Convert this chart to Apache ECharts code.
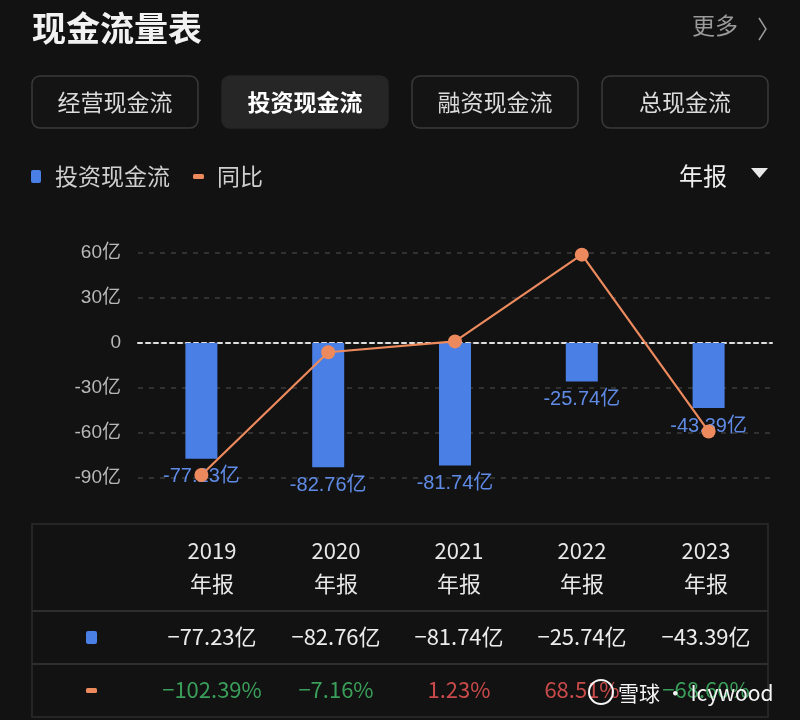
<!DOCTYPE html>
<html>
<head>
<meta charset="utf-8">
<script src="https://cdn.jsdelivr.net/npm/echarts@6/dist/echarts.min.js"></script>
<style>
html,body{margin:0;padding:0;background:#121212;}
#main{width:800px;height:720px;}
</style>
</head>
<body>
<div id="main"></div>
<script>
var years = ['2019', '2020', '2021', '2022', '2023'];
var periodLabel = '年报';
var cashFlow = [-77.23, -82.76, -81.74, -25.74, -43.39];      // 亿
var yoy = [-102.39, -7.16, 1.23, 68.51, -68.60];               // %
var yTicks = [-90, -60, -30, 0, 30, 60];
var tabs = ['经营现金流', '投资现金流', '融资现金流', '总现金流'];
var activeTab = 1;
var seriesNames = ['投资现金流', '同比'];

var FONT = '"Noto Sans CJK SC", "Noto Sans", sans-serif';
var NUMFONT = '"Liberation Sans", "Noto Sans CJK SC", sans-serif';
var BLUE = '#4a7fe6';
var ORANGE = '#ec8a5e';
var GREEN = '#3a9e5a';
var RED = '#c94a4a';

var chart = echarts.init(document.getElementById('main'), null, {renderer: 'canvas'});

function fmtYi(v) { return (v < 0 ? '\u2212' : '') + Math.abs(v).toFixed(2) + '亿'; }
function fmtPct(v) { return (v < 0 ? '\u2212' : '') + Math.abs(v).toFixed(2) + '%'; }

var g = [];
// title
g.push({type: 'text', left: 32, top: 11, style: {text: '现金流量表', fill: '#f2f2f2', font: 'bold 34px ' + FONT}});
g.push({type: 'text', left: 692, top: 14, style: {text: '更多', fill: '#9a9a9a', font: '23px ' + FONT}});
g.push({type: 'polyline', shape: {points: [[759, 18], [766, 29], [759, 40]]}, style: {stroke: '#9a9a9a', lineWidth: 1.5, fill: null}});

// tabs
var tabX = [32, 222, 412, 602];
tabs.forEach(function (t, i) {
  var active = i === activeTab;
  g.push({type: 'rect', shape: {x: tabX[i], y: 76, width: 166, height: 52, r: 8},
    style: {fill: active ? '#262626' : '#141414', stroke: active ? '#262626' : '#3a3a3a', lineWidth: 1.5}});
  g.push({type: 'text', x: tabX[i] + 83, y: 102,
    style: {text: t, fill: active ? '#ffffff' : '#dcdcdc', font: (active ? 'bold ' : '') + '23px ' + FONT,
      textAlign: 'center', textVerticalAlign: 'middle'}});
});

// legend
g.push({type: 'rect', shape: {x: 31, y: 170, width: 10, height: 13, r: 2}, style: {fill: BLUE}});
g.push({type: 'text', x: 55, y: 176, style: {text: seriesNames[0], fill: '#cfcfcf', font: '23px ' + FONT, textVerticalAlign: 'middle'}});
g.push({type: 'rect', shape: {x: 193, y: 174, width: 11, height: 5, r: 1.5}, style: {fill: ORANGE}});
g.push({type: 'text', x: 217, y: 176, style: {text: seriesNames[1], fill: '#cfcfcf', font: '23px ' + FONT, textVerticalAlign: 'middle'}});
g.push({type: 'text', x: 679, y: 176, style: {text: periodLabel, fill: '#f0f0f0', font: '24px ' + FONT, textVerticalAlign: 'middle'}});
g.push({type: 'polygon', shape: {points: [[751, 168], [768, 168], [759.5, 178]]}, style: {fill: '#e8e8e8'}});

// table
g.push({type: 'rect', shape: {x: 32, y: 524, width: 736, height: 193}, style: {fill: null, stroke: '#2c2c2c', lineWidth: 1.5}});
g.push({type: 'line', shape: {x1: 32, y1: 611, x2: 768, y2: 611}, style: {stroke: '#2e2e2e', lineWidth: 2}});
g.push({type: 'line', shape: {x1: 32, y1: 664, x2: 768, y2: 664}, style: {stroke: '#2e2e2e', lineWidth: 2}});
var colX = [212, 336, 459, 582, 706];
years.forEach(function (y, i) {
  g.push({type: 'text', x: colX[i], y: 551, style: {text: y, fill: '#e8e8e8', font: '22px ' + FONT, textAlign: 'center', textVerticalAlign: 'middle'}});
  g.push({type: 'text', x: colX[i], y: 584, style: {text: periodLabel, fill: '#e8e8e8', font: '22px ' + FONT, textAlign: 'center', textVerticalAlign: 'middle'}});
  g.push({type: 'text', x: colX[i], y: 637, style: {text: fmtYi(cashFlow[i]), fill: '#ececec', font: '22px ' + FONT, textAlign: 'center', textVerticalAlign: 'middle'}});
  g.push({type: 'text', x: colX[i], y: 690, style: {text: fmtPct(yoy[i]), fill: yoy[i] < 0 ? GREEN : RED, font: '22px ' + FONT, textAlign: 'center', textVerticalAlign: 'middle'}});
});
g.push({type: 'rect', shape: {x: 86, y: 631, width: 11, height: 13, r: 2}, style: {fill: BLUE}});
g.push({type: 'rect', shape: {x: 86, y: 688, width: 11, height: 5, r: 1.5}, style: {fill: ORANGE}});

// watermark
g.push({type: 'circle', shape: {cx: 601, cy: 692, r: 12}, style: {fill: null, stroke: '#f4f4f4', lineWidth: 2}, z: 100});
g.push({type: 'text', x: 618, y: 693, style: {text: '雪球 · Icywood', fill: '#f4f4f4', font: '21px ' + FONT, textVerticalAlign: 'middle'}, z: 100});

chart.setOption({
  backgroundColor: '#121212',
  animation: false,
  textStyle: {fontFamily: FONT},
  grid: {left: 138, right: 28, top: 253, height: 225, containLabel: false},
  xAxis: {
    type: 'category', data: years,
    axisLabel: {show: false}, axisTick: {show: false},
    axisLine: {show: true, onZero: true, lineStyle: {color: '#e0e0e0', type: [4, 4], width: 2}},
    splitLine: {show: false}
  },
  yAxis: [{
    type: 'value', min: yTicks[0], max: yTicks[yTicks.length - 1], interval: 30,
    axisLine: {show: false}, axisTick: {show: false},
    axisLabel: {color: '#b8b8b8', fontSize: 19, margin: 17, fontFamily: NUMFONT,
      formatter: function (v) { return v === 0 ? '0' : v + '亿'; }},
    splitLine: {show: true, lineStyle: {color: '#3c3c3c', type: [5, 6], width: 1.5}}
  }, {
    type: 'value', min: -104.7, max: 69.8, show: false, splitLine: {show: false}
  }],
  series: [{
    name: seriesNames[0], type: 'bar', data: cashFlow, barWidth: 32,
    itemStyle: {color: BLUE},
    label: {show: true, position: 'bottom', distance: 8, color: '#5f8be6', fontSize: 20, fontFamily: NUMFONT,
      formatter: function (p) { return p.value.toFixed(2) + '亿'; }}
  }, {
    name: seriesNames[1], type: 'line', yAxisIndex: 1, data: yoy,
    symbol: 'circle', symbolSize: 14, z: 5,
    lineStyle: {color: ORANGE, width: 2.2}, itemStyle: {color: ORANGE}
  }],
  graphic: g
});
</script>
</body>
</html>
